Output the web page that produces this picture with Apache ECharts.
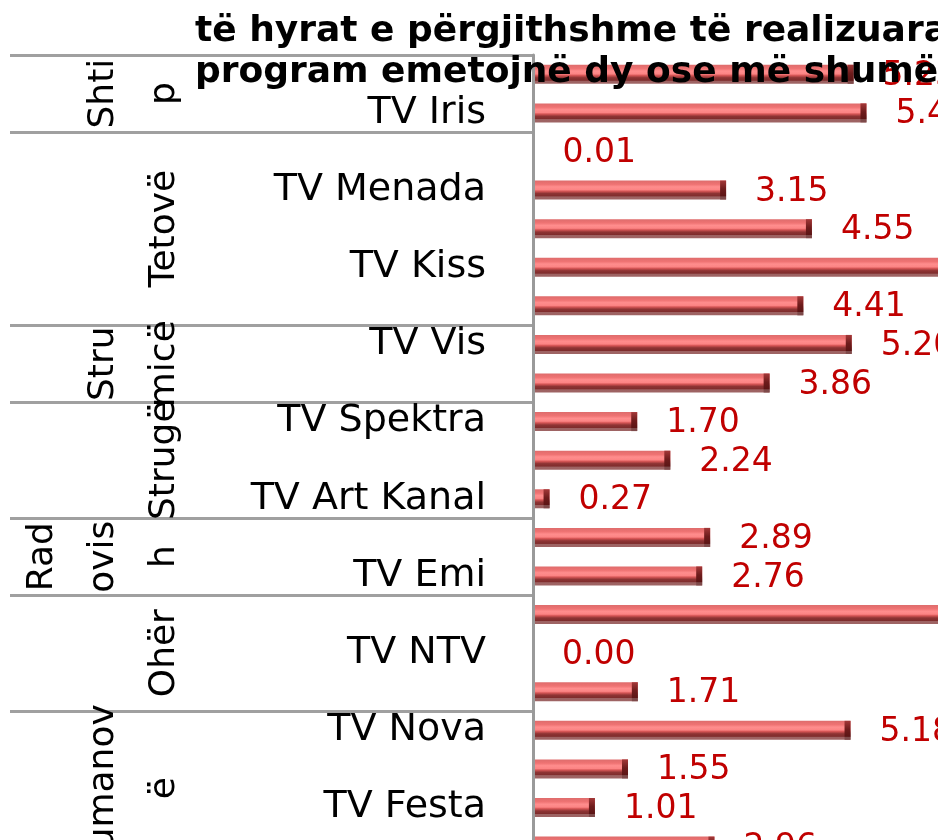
<!DOCTYPE html>
<html>
<head>
<meta charset="utf-8">
<script src="https://cdn.jsdelivr.net/npm/echarts@6/dist/echarts.min.js"></script>
<style>
  html, body { margin: 0; padding: 0; background: #ffffff; }
  #chart { width: 938px; height: 840px; }
</style>
</head>
<body>
<div id="chart"></div>
<script>
// ---- data ----
const titleLines = ['të hyrat e përgjithshme të realizuara', 'program emetojnë dy ose më shumë'];
const groupLabels = ['Shti\np', 'Tetovë', 'Stru\nmicë', 'Strugë', 'Rad\novis\nh', 'Ohër', 'Kumanov\në'];
const groupSizes = [2, 5, 2, 3, 2, 3, 4];
const stations = ['', 'TV Iris', '', 'TV Menada', '', 'TV Kiss', '', 'TV Vis', '', 'TV Spektra', '',
                  'TV Art Kanal', '', 'TV Emi', '', 'TV NTV', '', 'TV Nova', '', 'TV Festa', ''];
const revenue = [5.23, 5.44, 0.01, 3.15, 4.55, 7.60, 4.41, 5.20, 3.86, 1.70, 2.24,
                 0.27, 2.89, 2.76, 8.30, 0.00, 1.71, 5.18, 1.55, 1.01, 2.96];

// ---- derived group geometry (in category index units) ----
const groupBounds = [-0.5];
const groupCenters = [];
let acc = 0;
groupSizes.forEach(n => {
  groupCenters.push(acc + (n - 1) / 2);
  acc += n;
  groupBounds.push(acc - 0.5);
});

const chart = echarts.init(document.getElementById('chart'), null, { renderer: 'canvas' });

const barGradient = new echarts.graphic.LinearGradient(0, 0, 0, 1, [
  { offset: 0.00, color: '#DE6C6C' },
  { offset: 0.20, color: '#EF7373' },
  { offset: 0.33, color: '#FF8D8D' },
  { offset: 0.48, color: '#FC8484' },
  { offset: 0.56, color: '#D65656' },
  { offset: 0.68, color: '#8E3434' },
  { offset: 0.82, color: '#7E2C2C' },
  { offset: 0.85, color: '#9E6262' },
  { offset: 1.00, color: '#9E6464' }
]);
const capGradient = new echarts.graphic.LinearGradient(0, 0, 0, 1, [
  { offset: 0.00, color: '#A43838' },
  { offset: 0.45, color: '#6E1C1C' },
  { offset: 0.82, color: '#5C1515' },
  { offset: 0.85, color: '#7E4A4A' },
  { offset: 1.00, color: '#7E4A4A' }
]);

const PX_PER_UNIT = 61.3;
const X_MAX = 10;

chart.setOption({
  backgroundColor: '#ffffff',
  animation: false,
  title: {
    text: titleLines.join('\n'),
    left: 195,
    top: 11,
    padding: 0,
    textStyle: {
      fontFamily: 'DejaVu Sans',
      fontWeight: 'bold',
      fontSize: 36,
      lineHeight: 41,
      color: '#000000'
    }
  },
  grid: {
    left: 533,
    top: 55,
    width: PX_PER_UNIT * X_MAX,
    height: 38.59 * stations.length,
    containLabel: false,
    outerBoundsMode: 'none'
  },
  xAxis: {
    type: 'value',
    min: 0,
    max: X_MAX,
    show: false,
    splitLine: { show: false }
  },
  yAxis: [
    {
      type: 'category',
      data: stations,
      inverse: true,
      z: 3,
      axisLine: { show: true, lineStyle: { color: '#9A9A9A', width: 3 } },
      axisTick: { show: false },
      axisLabel: {
        interval: 0,
        margin: 47,
        fontFamily: 'DejaVu Sans',
        fontSize: 38,
        color: '#000000'
      },
      splitLine: { show: false }
    },
    {
      type: 'value',
      inverse: true,
      min: -0.5,
      max: stations.length - 0.5,
      position: 'left',
      axisLine: { show: false },
      splitLine: { show: false },
      axisTick: {
        show: true,
        customValues: groupBounds,
        length: 523,
        lineStyle: { color: '#A0A0A0', width: 3 }
      },
      axisLabel: {
        show: true,
        customValues: groupCenters,
        formatter: function (v) {
          const i = groupCenters.findIndex(c => Math.abs(c - v) < 1e-6);
          return i >= 0 ? groupLabels[i] : '';
        },
        rotate: 90,
        align: 'center',
        verticalAlign: 'bottom',
        margin: 338,
        lineHeight: 61,
        fontFamily: 'DejaVu Sans',
        fontSize: 36,
        color: '#000000'
      }
    }
  ],
  series: [
    {
      type: 'bar',
      yAxisIndex: 0,
      data: revenue,
      barWidth: 19,
      itemStyle: { color: barGradient },
      label: {
        show: true,
        position: 'right',
        distance: 29,
        offset: [0, 2],
        formatter: p => p.value.toFixed(2),
        fontFamily: 'DejaVu Sans',
        fontSize: 33,
        color: '#C00000'
      }
    },
    {
      type: 'pictorialBar',
      yAxisIndex: 0,
      symbol: 'rect',
      symbolPosition: 'end',
      data: revenue.map(v => ({ value: v, symbolSize: v < 0.05 ? [0, 0] : [6, 19] })),
      itemStyle: { color: capGradient },
      z: 3
    }
  ]
});
</script>
</body>
</html>
